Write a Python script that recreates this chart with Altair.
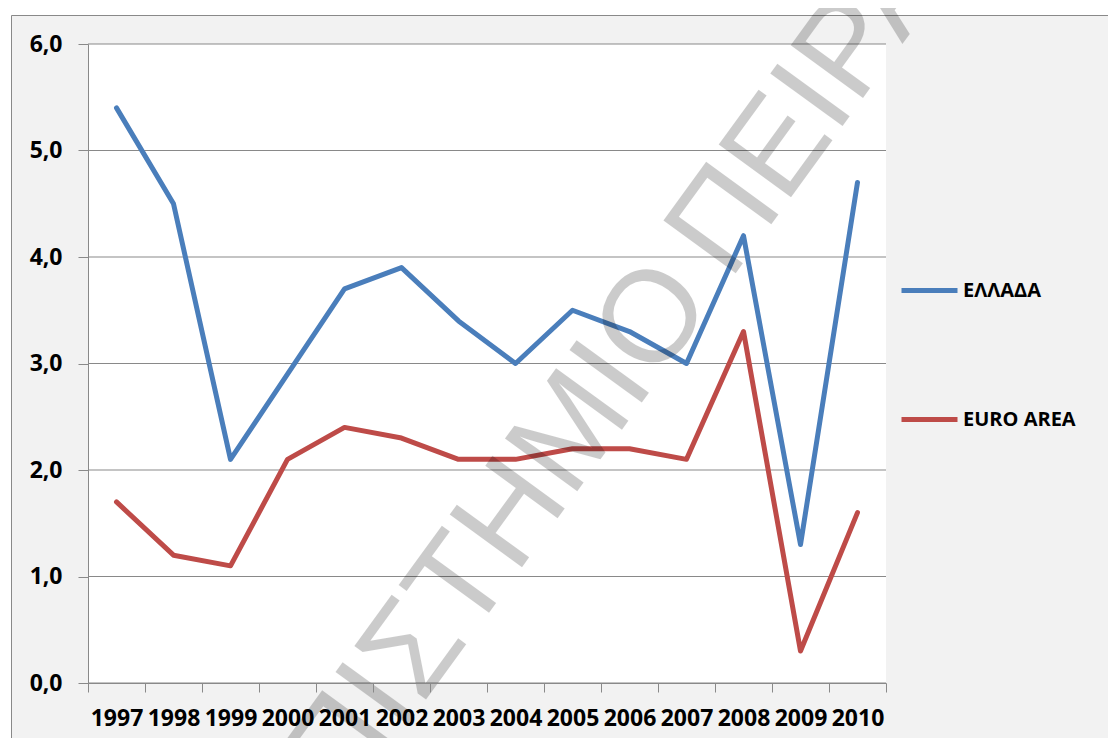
import altair as alt
import pandas as pd

# ---- data ----
years = [str(y) for y in range(1997, 2011)]
greece = [5.4, 4.5, 2.1, 2.9, 3.7, 3.9, 3.4, 3.0, 3.5, 3.3, 3.0, 4.2, 1.3, 4.7]
euro_area = [1.7, 1.2, 1.1, 2.1, 2.4, 2.3, 2.1, 2.1, 2.2, 2.2, 2.1, 3.3, 0.3, 1.6]
series_names = ["ΕΛΛΑΔΑ", "EURO AREA"]
series_colors = ["#4a7ebb", "#be4b48"]
y_ticks = [0, 1, 2, 3, 4, 5, 6]
watermark = ["ΠΑΝΕΠΙΣΤΗΜΙΟ", "ΠΕΙΡΑΙΩΣ"]

rows = []
for name, vals in zip(series_names, [greece, euro_area]):
    for yr, v in zip(years, vals):
        rows.append({"year": yr, "value": v, "series": name})
df = pd.DataFrame(rows)

W, H = 798, 639
AXIS_GRAY = "#898989"
FONT = "Open Sans"

one = pd.DataFrame({"k": [0]})

frame = alt.Chart(one).mark_rect(fill="#f2f2f2", stroke=AXIS_GRAY, strokeWidth=1).encode(
    x=alt.value(-76.5), y=alt.value(-28.5), x2=alt.value(1100), y2=alt.value(760)
)
plot_bg = alt.Chart(one).mark_rect(fill="white").encode(
    x=alt.value(0), y=alt.value(0), x2=alt.value(W), y2=alt.value(H)
)

yscale = alt.Scale(domain=[0, 6], nice=False, zero=True)
yaxis = alt.Axis(
    title=None, values=y_ticks,
    labelExpr="replace(format(datum.value, '.1f'), '.', ',')",
    tickSize=10, labelPadding=16, domainColor=AXIS_GRAY, tickColor=AXIS_GRAY,
    labelFont=FONT, labelFontSize=23, labelFontWeight="bold", labelColor="black",
    grid=False, zindex=1,
)

grid = alt.Chart(pd.DataFrame({"value": y_ticks})).mark_rule(color=AXIS_GRAY, strokeWidth=1).encode(
    y=alt.Y("value:Q", scale=yscale, axis=yaxis),
    x=alt.value(0),
    x2=alt.value(W),
)

lines = alt.Chart(df).mark_line(strokeWidth=5, strokeCap="round", strokeJoin="round").encode(
    x=alt.X(
        "year:N",
        sort=years,
        bandPosition=0.5,
        scale=alt.Scale(type="band", paddingInner=0, paddingOuter=0),
        axis=alt.Axis(
            title=None, tickBand="extent", labelAngle=0, labelOverlap=False,
            tickSize=9, labelPadding=15, domainColor=AXIS_GRAY, tickColor=AXIS_GRAY,
            labelFont=FONT, labelFontSize=23, labelFontWeight="bold", labelColor="black",
            grid=False, zindex=1,
        ),
    ),
    y=alt.Y("value:Q", scale=yscale, axis=yaxis),
    color=alt.Color(
        "series:N",
        scale=alt.Scale(domain=series_names, range=series_colors),
        legend=alt.Legend(
            title=None, orient="none", legendX=811, legendY=216, padding=0,
            symbolType="stroke", symbolSize=3136, symbolStrokeWidth=5,
            labelFont=FONT, labelFontSize=20, labelFontWeight="bold", labelColor="black",
            labelOffset=3, rowPadding=88,
        ),
    ),
)

wm1 = alt.Chart(pd.DataFrame({"t": [watermark[0]]})).mark_text(
    align="right", baseline="middle", angle=306, fontSize=130,
    font="Liberation Sans", color="black", opacity=0.2,
).encode(text="t:N", x=alt.value(595.8), y=alt.value(234.3))

wm2 = alt.Chart(pd.DataFrame({"t": [watermark[1]]})).mark_text(
    align="left", baseline="middle", angle=306, fontSize=130,
    font="Liberation Sans", color="black", opacity=0.2,
).encode(text="t:N", x=alt.value(609.9), y=alt.value(214.9))

chart = alt.layer(frame, plot_bg, grid, lines, wm1, wm2).properties(
    width=W,
    height=H,
    autosize=alt.AutoSizeParams(type="none"),
    padding={"left": 80, "top": 36, "right": 222, "bottom": 55},
    background="white",
).configure_view(stroke=None)

chart.save("out.html", embed_options={"renderer": "svg", "actions": False})
